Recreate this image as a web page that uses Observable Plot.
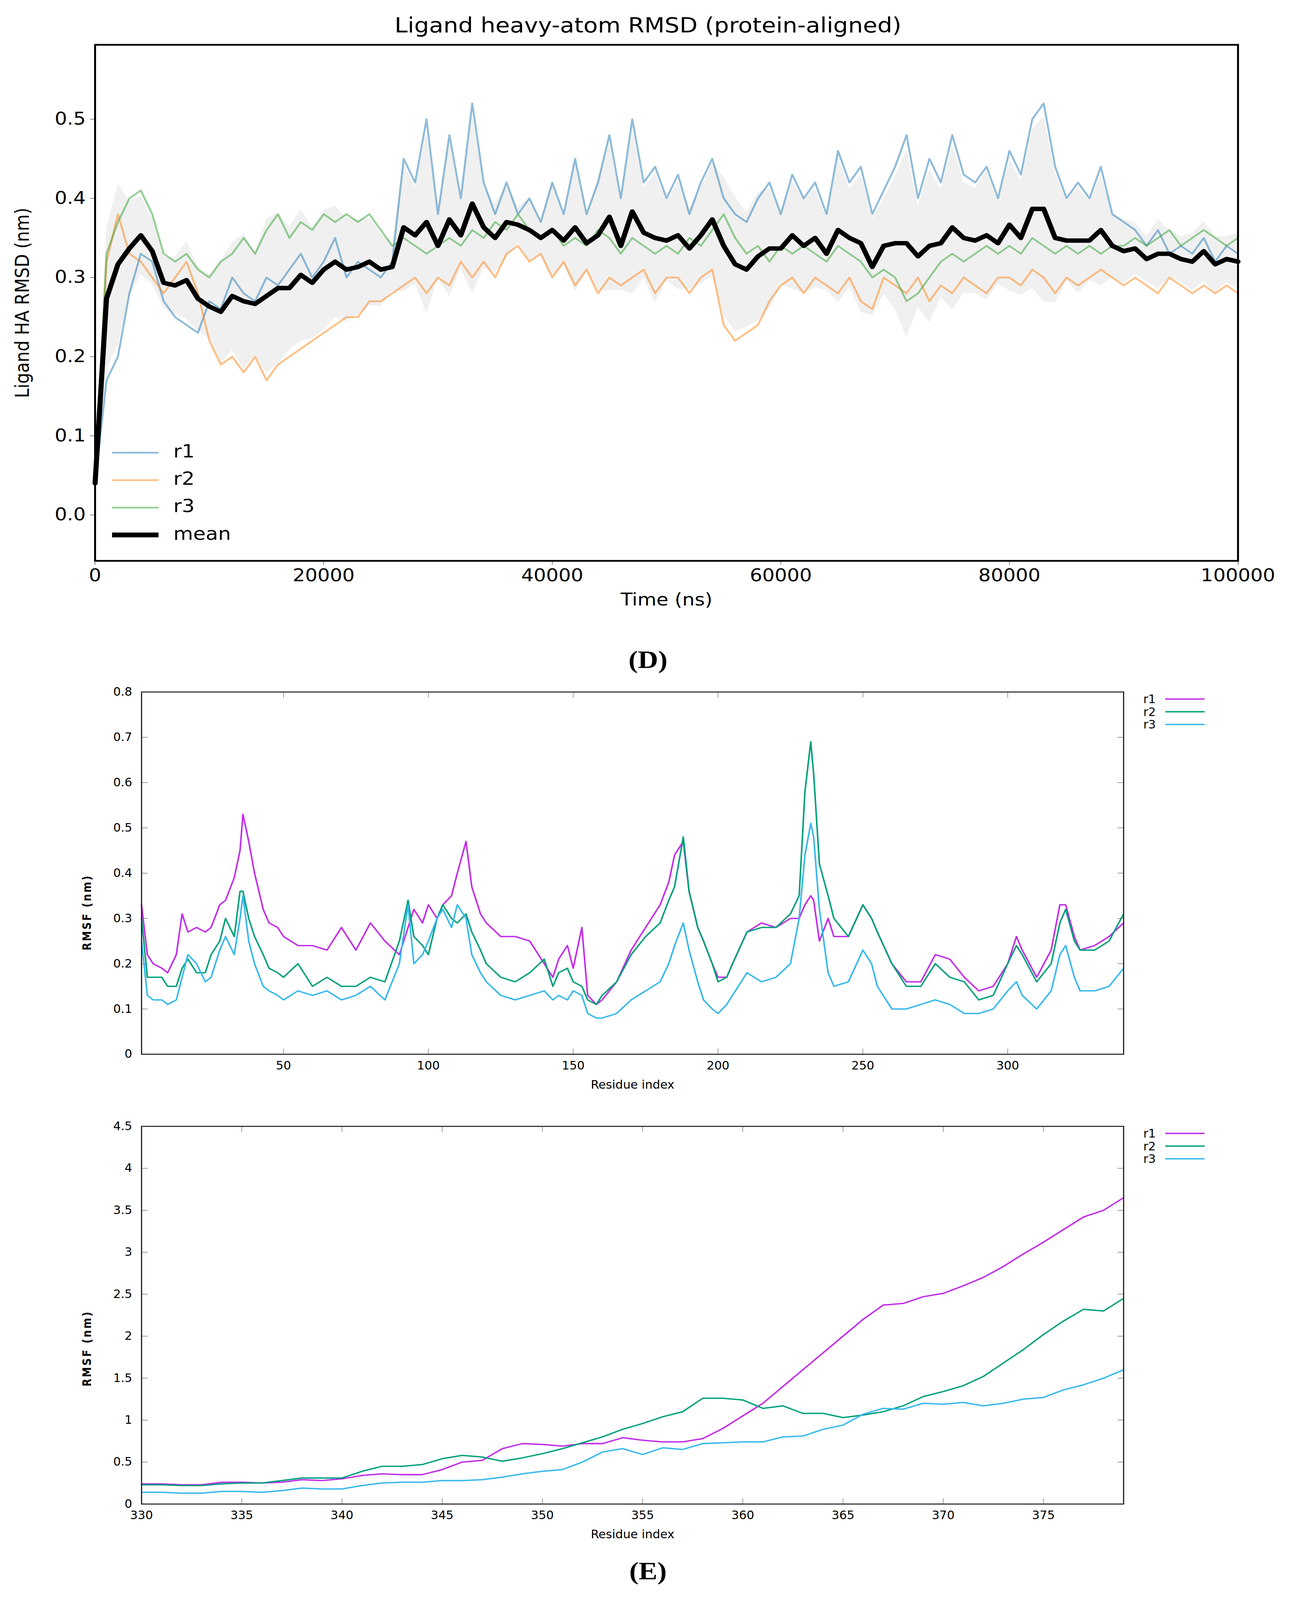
<!DOCTYPE html>
<html><head><meta charset="utf-8">
<script src="https://cdn.jsdelivr.net/npm/d3@7"></script>
<script src="https://cdn.jsdelivr.net/npm/@observablehq/plot@0.6"></script>
<style>
html,body{margin:0;padding:0;background:#fff;overflow:hidden;}
#root{position:relative;width:3319px;height:4660px;background:#fff;overflow:hidden;transform-origin:0 0;}
.abs{position:absolute;z-index:1;}
.lab{position:absolute;white-space:nowrap;z-index:3;}
</style></head><body><div id="root"></div>
<script>
// ---------- Panel D data (time in ns, RMSD in nm) ----------
const timeNs = d3.range(0, 100001, 1000);
const rmsdR1 = [0.04,0.17,0.2,0.28,0.33,0.32,0.27,0.25,0.24,0.23,0.27,0.26,0.3,0.28,0.27,0.3,0.29,0.31,0.33,0.3,0.32,0.35,0.3,0.32,0.31,0.3,0.32,0.45,0.42,0.5,0.38,0.48,0.4,0.52,0.42,0.38,0.42,0.38,0.4,0.37,0.42,0.38,0.45,0.38,0.42,0.48,0.4,0.5,0.42,0.44,0.4,0.43,0.38,0.42,0.45,0.4,0.38,0.37,0.4,0.42,0.38,0.43,0.4,0.42,0.38,0.46,0.42,0.44,0.38,0.41,0.44,0.48,0.4,0.45,0.42,0.48,0.43,0.42,0.44,0.4,0.46,0.43,0.5,0.52,0.44,0.4,0.42,0.4,0.44,0.38,0.37,0.36,0.34,0.36,0.33,0.34,0.33,0.35,0.32,0.34,0.33];
const rmsdR2 = [0.04,0.32,0.38,0.33,0.32,0.3,0.28,0.3,0.32,0.28,0.22,0.19,0.2,0.18,0.2,0.17,0.19,0.2,0.21,0.22,0.23,0.24,0.25,0.25,0.27,0.27,0.28,0.29,0.3,0.28,0.3,0.29,0.32,0.3,0.32,0.3,0.33,0.34,0.32,0.33,0.3,0.32,0.29,0.31,0.28,0.3,0.29,0.3,0.31,0.28,0.3,0.3,0.28,0.3,0.31,0.24,0.22,0.23,0.24,0.27,0.29,0.3,0.28,0.3,0.29,0.28,0.3,0.27,0.26,0.3,0.29,0.28,0.3,0.27,0.29,0.28,0.3,0.29,0.28,0.3,0.3,0.29,0.31,0.3,0.28,0.3,0.29,0.3,0.31,0.3,0.29,0.3,0.29,0.28,0.3,0.29,0.28,0.29,0.28,0.29,0.28];
const rmsdR3 = [0.04,0.33,0.37,0.4,0.41,0.38,0.33,0.32,0.33,0.31,0.3,0.32,0.33,0.35,0.33,0.36,0.38,0.35,0.37,0.36,0.38,0.37,0.38,0.37,0.38,0.36,0.34,0.35,0.34,0.33,0.34,0.35,0.34,0.36,0.35,0.37,0.36,0.38,0.36,0.35,0.36,0.34,0.35,0.34,0.36,0.35,0.33,0.35,0.34,0.33,0.34,0.33,0.35,0.34,0.36,0.38,0.35,0.33,0.34,0.32,0.34,0.33,0.34,0.33,0.32,0.34,0.33,0.32,0.3,0.31,0.3,0.27,0.28,0.3,0.32,0.33,0.32,0.33,0.34,0.33,0.34,0.33,0.35,0.34,0.33,0.34,0.33,0.34,0.33,0.34,0.34,0.35,0.34,0.35,0.36,0.34,0.35,0.36,0.35,0.34,0.35];
const rmsdTicks = [0.0,0.1,0.2,0.3,0.4,0.5];
const timeTicks = [0,20000,40000,60000,80000,100000];

// ---------- Panel E (top) data ----------
const resA = [1,3,5,8,10,13,15,17,20,23,25,28,30,33,35,36,38,40,43,45,48,50,55,60,65,70,75,80,85,90,93,95,98,100,103,105,108,110,113,115,118,120,125,130,135,140,143,145,148,150,153,155,158,160,165,170,175,180,183,185,188,190,193,195,198,200,203,205,210,215,220,225,228,230,232,233,235,238,240,245,250,253,255,260,265,270,275,280,285,290,295,300,303,305,310,315,318,320,323,325,330,335,340];
const rmsfAr1 = [0.33,0.22,0.2,0.19,0.18,0.22,0.31,0.27,0.28,0.27,0.28,0.33,0.34,0.39,0.45,0.53,0.47,0.4,0.32,0.29,0.28,0.26,0.24,0.24,0.23,0.28,0.23,0.29,0.25,0.22,0.28,0.32,0.29,0.33,0.3,0.33,0.35,0.4,0.47,0.37,0.31,0.29,0.26,0.26,0.25,0.2,0.17,0.21,0.24,0.19,0.28,0.13,0.11,0.12,0.16,0.23,0.28,0.33,0.38,0.44,0.47,0.36,0.28,0.25,0.2,0.17,0.17,0.2,0.27,0.29,0.28,0.3,0.3,0.33,0.35,0.34,0.25,0.3,0.26,0.26,0.33,0.3,0.27,0.2,0.16,0.16,0.22,0.21,0.17,0.14,0.15,0.2,0.26,0.23,0.17,0.23,0.33,0.33,0.26,0.23,0.24,0.26,0.29];
const rmsfAr2 = [0.3,0.17,0.17,0.17,0.15,0.15,0.19,0.21,0.18,0.18,0.22,0.25,0.3,0.26,0.36,0.36,0.3,0.26,0.22,0.19,0.18,0.17,0.2,0.15,0.17,0.15,0.15,0.17,0.16,0.25,0.34,0.26,0.24,0.22,0.3,0.33,0.3,0.29,0.31,0.27,0.23,0.2,0.17,0.16,0.18,0.21,0.15,0.18,0.19,0.16,0.15,0.12,0.11,0.13,0.16,0.22,0.26,0.29,0.34,0.37,0.48,0.36,0.28,0.25,0.2,0.16,0.17,0.2,0.27,0.28,0.28,0.31,0.35,0.58,0.69,0.62,0.42,0.35,0.3,0.26,0.33,0.3,0.27,0.2,0.15,0.15,0.2,0.17,0.16,0.12,0.13,0.2,0.24,0.22,0.16,0.2,0.29,0.32,0.25,0.23,0.23,0.25,0.31];
const rmsfAr3 = [0.25,0.13,0.12,0.12,0.11,0.12,0.17,0.22,0.2,0.16,0.17,0.23,0.26,0.22,0.3,0.35,0.25,0.2,0.15,0.14,0.13,0.12,0.14,0.13,0.14,0.12,0.13,0.15,0.12,0.2,0.33,0.2,0.22,0.25,0.3,0.32,0.28,0.33,0.3,0.22,0.18,0.16,0.13,0.12,0.13,0.14,0.12,0.13,0.12,0.14,0.13,0.09,0.08,0.08,0.09,0.12,0.14,0.16,0.2,0.24,0.29,0.23,0.16,0.12,0.1,0.09,0.11,0.13,0.18,0.16,0.17,0.2,0.3,0.44,0.51,0.48,0.32,0.18,0.15,0.16,0.23,0.2,0.15,0.1,0.1,0.11,0.12,0.11,0.09,0.09,0.1,0.14,0.16,0.13,0.1,0.14,0.22,0.24,0.17,0.14,0.14,0.15,0.19];
const ticksA = [0,0.1,0.2,0.3,0.4,0.5,0.6,0.7,0.8];
const resTicksA = [50,100,150,200,250,300];

// ---------- Panel E (bottom) data ----------
const resB = d3.range(330, 380);
const rmsfBr1 = [0.24,0.24,0.23,0.23,0.26,0.26,0.25,0.26,0.29,0.28,0.3,0.34,0.36,0.35,0.35,0.41,0.5,0.52,0.66,0.72,0.71,0.69,0.72,0.72,0.79,0.76,0.74,0.74,0.78,0.9,1.05,1.2,1.4,1.6,1.8,2.0,2.2,2.37,2.39,2.47,2.51,2.6,2.7,2.83,2.98,3.12,3.27,3.42,3.5,3.65];
const rmsfBr2 = [0.23,0.23,0.22,0.22,0.24,0.25,0.25,0.28,0.31,0.31,0.31,0.39,0.45,0.45,0.47,0.54,0.58,0.56,0.51,0.55,0.6,0.66,0.73,0.8,0.89,0.96,1.04,1.1,1.26,1.26,1.24,1.14,1.17,1.08,1.08,1.03,1.06,1.1,1.17,1.28,1.34,1.41,1.52,1.68,1.84,2.02,2.18,2.32,2.3,2.45];
const rmsfBr3 = [0.14,0.14,0.13,0.13,0.15,0.15,0.14,0.16,0.19,0.18,0.18,0.22,0.25,0.26,0.26,0.28,0.28,0.29,0.32,0.36,0.39,0.41,0.5,0.62,0.66,0.59,0.67,0.65,0.72,0.73,0.74,0.74,0.8,0.81,0.89,0.94,1.07,1.14,1.13,1.2,1.19,1.21,1.17,1.2,1.25,1.27,1.36,1.42,1.5,1.6];
const ticksB = [0,0.5,1,1.5,2,2.5,3,3.5,4,4.5];
const resTicksB = [330,335,340,345,350,355,360,365,370,375];

const seriesNames = ["r1","r2","r3"];
const colD = ["#1f77b4","#ff7f0e","#2ca02c"];
const colE = ["#c22ce8","#00a07c","#36b8ec"];

const root = document.getElementById("root");
// the viewport is shorter than the page: fit the 4660-tall layout into it
const vh = window.innerHeight || 4096;
if (vh < 4660) root.style.transform = `scale(1, ${vh/4660})`;

function place(node, left, top){ const d=document.createElement("div"); d.className="abs"; d.style.left=left+"px"; d.style.top=top+"px"; d.appendChild(node); root.appendChild(d); }
function label(text, left, top, css){ const d=document.createElement("div"); d.className="lab"; d.textContent=text; d.style.left=left+"px"; d.style.top=top+"px"; Object.assign(d.style, css||{}); root.appendChild(d); return d; }

// ---------- Panel D ----------
const dRows = [];
[rmsdR1,rmsdR2,rmsdR3].forEach((arr,i)=>arr.forEach((v,j)=>dRows.push({t:timeNs[j], v, s:seriesNames[i]})));
const meanRows = timeNs.map((t,j)=>{
  const vals=[rmsdR1[j],rmsdR2[j],rmsdR3[j]]; const m=d3.mean(vals); const sd=d3.deviation(vals);
  return {t, m, lo:m-sd, hi:m+sd};
});
const fD = "DejaVu Sans";
const plotD = Plot.plot({
  width:3319, height:1800, marginLeft:243, marginRight:149, marginTop:130, marginBottom:167,
  style:{fontFamily:fD, fontSize:"50px", background:"transparent", color:"#000"},
  x:{domain:[0,100000], ticks:timeTicks, tickFormat:d=>String(d), label:"Time (ns)", labelAnchor:"center", labelArrow:"none", labelOffset:130, tickSize:12, tickPadding:12},
  y:{domain:[-0.058,0.594], ticks:rmsdTicks, tickFormat:d3.format(".1f"), label:"Ligand HA RMSD (nm)", labelAnchor:"center", labelArrow:"none", labelOffset:205, tickSize:12, tickPadding:12},
  color:{domain:seriesNames, range:colD},
  marks:[
    Plot.areaY(meanRows,{x:"t", y1:"lo", y2:"hi", fill:"#aaaaaa", fillOpacity:0.18}),
    Plot.lineY(dRows,{x:"t", y:"v", z:"s", stroke:"s", strokeWidth:5, strokeOpacity:0.5}),
    Plot.lineY(meanRows,{x:"t", y:"m", stroke:"black", strokeWidth:13}),
    Plot.frame({stroke:"black", strokeWidth:5})
  ]
});
place(plotD,0,0);
label("Ligand heavy-atom RMSD (protein-aligned)", 0, 38, {width:"3319px", textAlign:"center", fontFamily:fD, fontSize:"60px"});
const legD = [["r1",colD[0],5,0.5],["r2",colD[1],5,0.5],["r3",colD[2],5,0.5],["mean","#000",14,1]];
legD.forEach((l,i)=>{
  const y=1318+i*80;
  const ln=document.createElement("div"); ln.className="abs";
  Object.assign(ln.style,{left:"287px", top:(y-l[2]/2)+"px", width:"119px", height:l[2]+"px", background:l[1], opacity:l[3]});
  root.appendChild(ln);
  label(l[0], 444, y-34, {fontFamily:fD, fontSize:"52px"});
});
label("(D)", 0, 1880, {width:"3319px", textAlign:"center", fontFamily:"Liberation Serif", fontWeight:"bold", fontSize:"72px"});

// ---------- Panel E helpers ----------
const fE = "DejaVu Sans Condensed, Liberation Sans, sans-serif";
function gnuPanel(res, arrs, domX, domY, ticksX, ticksY, height, mTop, mBottom){
  const rows=[];
  arrs.forEach((arr,i)=>arr.forEach((v,j)=>rows.push({x:res[j], v, s:seriesNames[i]})));
  return Plot.plot({
    width:3319, height, marginLeft:362, marginRight:442, marginTop:mTop, marginBottom:mBottom,
    style:{fontFamily:fE, fontSize:"34px", background:"transparent", color:"#000"},
    x:{domain:domX, label:"Residue index", labelAnchor:"center", labelArrow:"none"},
    y:{domain:domY, label:null},
    color:{domain:seriesNames, range:colE},
    marks:[
      Plot.axisX({ticks:ticksX, tickSize:-16, tickPadding:36, tickFormat:d=>String(d), label:"Residue index", labelAnchor:"center", labelArrow:"none", labelOffset:100, stroke:"#333"}),
      Plot.axisX({anchor:"top", ticks:ticksX, tickSize:-16, tickFormat:()=>"", label:null, stroke:"#333"}),
      Plot.axisY({ticks:ticksY, tickSize:-16, tickPadding:40, tickFormat:d=>String(d), label:null, stroke:"#333"}),
      Plot.axisY({anchor:"right", ticks:ticksY, tickSize:-16, tickFormat:()=>"", label:null, stroke:"#333"}),
      Plot.lineY(rows,{x:"x", y:"v", z:"s", stroke:"s", strokeWidth:4}),
      Plot.frame({stroke:"#222", strokeWidth:3})
    ]
  });
}
const plotEA = gnuPanel(resA,[rmsfAr1,rmsfAr2,rmsfAr3],[1,340],[0,0.8],resTicksA,ticksA,1300,65,180);
place(plotEA,0,1950);
const plotEB = gnuPanel(resB,[rmsfBr1,rmsfBr2,rmsfBr3],[330,379],[0,4.5],resTicksB,ticksB,1258,30,128);
place(plotEB,0,3250);

function legE(y0){
  seriesNames.forEach((n,i)=>{
    const y=y0+i*37;
    label(n, 2900, y-20, {fontFamily:fE, fontSize:"34px", width:"60px", textAlign:"right"});
    const ln=document.createElement("div"); ln.className="abs";
    Object.assign(ln.style,{left:"2984px", top:(y-2)+"px", width:"101px", height:"4px", background:colE[i]});
    root.appendChild(ln);
  });
}
legE(2036); legE(3301);
function yLabE(top){
  label("RMSF (nm)", 222-150, top, {fontFamily:"DejaVu Sans", fontWeight:"bold", fontSize:"30px", letterSpacing:"4px", width:"300px", textAlign:"center", transform:"rotate(-90deg)"});
}
yLabE(2640); yLabE(3910);
label("(E)", 0, 4535, {width:"3319px", textAlign:"center", fontFamily:"Liberation Serif", fontWeight:"bold", fontSize:"72px"});
</script></body></html>
